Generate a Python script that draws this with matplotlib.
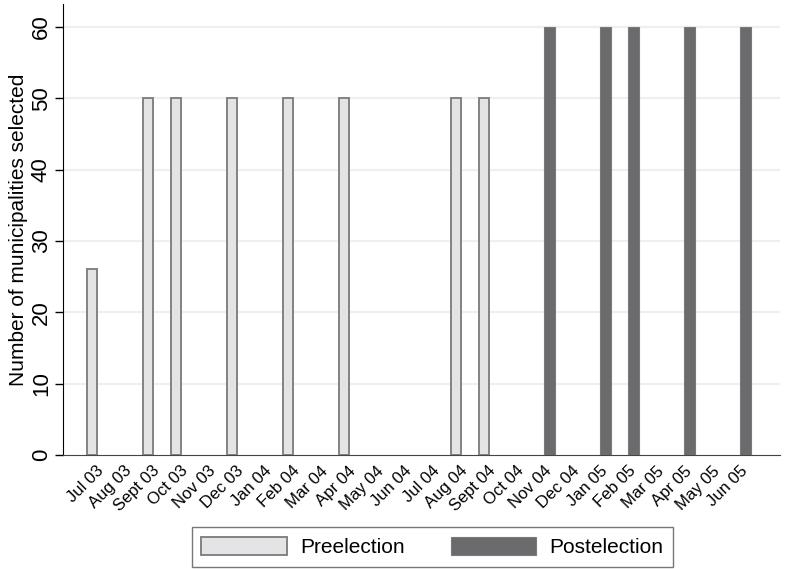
import matplotlib
matplotlib.use("Agg")
import matplotlib.pyplot as plt
import numpy as np

plt.rcParams['font.family'] = ['Liberation Sans', 'DejaVu Sans']

months = ["Jul 03", "Aug 03", "Sept 03", "Oct 03", "Nov 03", "Dec 03", "Jan 04", "Feb 04",
          "Mar 04", "Apr 04", "May 04", "Jun 04", "Jul 04", "Aug 04", "Sept 04", "Oct 04",
          "Nov 04", "Dec 04", "Jan 05", "Feb 05", "Mar 05", "Apr 05", "May 05", "Jun 05"]
pre_months = ["Jul 03", "Sept 03", "Oct 03", "Dec 03", "Feb 04", "Apr 04", "Aug 04", "Sept 04"]
pre_values = [26, 50, 50, 50, 50, 50, 50, 50]
post_months = ["Nov 04", "Jan 05", "Feb 05", "Apr 05", "Jun 05"]
post_values = [60, 60, 60, 60, 60]
y_ticks = [0, 10, 20, 30, 40, 50, 60]

fig = plt.figure(figsize=(7.99, 5.69), dpi=100)
ax = fig.add_axes([63/799, 114/569, (780-63)/799, (565-114)/569])

idx = {m: i for i, m in enumerate(months)}
pre_x = np.array([idx[m] for m in pre_months]) - 0.15
post_x = np.array([idx[m] for m in post_months]) + 0.2

ax.bar(pre_x, pre_values, width=0.34, color='#e4e4e6', edgecolor='#7a7a7a',
       linewidth=1.3, label='Preelection', zorder=3)
ax.bar(post_x, post_values, width=0.38, color='#6b6b6d', edgecolor='#7a7a7a',
       linewidth=0.8, label='Postelection', zorder=3)

ax.set_xlim(-1.18, 24.43)
ax.set_ylim(0, 63.2)
ax.set_yticks(y_ticks)
ax.set_yticklabels([str(v) for v in y_ticks], rotation=90, va='center', fontsize=16)
ax.set_xticks(range(len(months)))
ax.set_xticklabels(months, rotation=45, ha='right', rotation_mode='anchor', fontsize=12)
ax.tick_params(axis='x', length=0, pad=6)
ax.tick_params(axis='y', length=6, width=1, pad=2)

for v in y_ticks[1:]:
    ax.axhline(v, color='#efefef', linewidth=1.6, zorder=1)

for s in ['top', 'right']:
    ax.spines[s].set_visible(False)
ax.spines['left'].set_color('black')
ax.spines['bottom'].set_color('#444444')

ax.set_ylabel('Number of municipalities selected', fontsize=15, labelpad=2)

leg = fig.legend(loc='center', bbox_to_anchor=(432.5/799, 22/569), ncol=2, fontsize=15,
                 frameon=True, fancybox=False, edgecolor='#555555',
                 handlelength=4.1, handleheight=1.0, handletextpad=0.65,
                 columnspacing=2.2, borderpad=0.45)
leg.get_frame().set_linewidth(1.0)

fig.savefig('out.png', dpi=100)
